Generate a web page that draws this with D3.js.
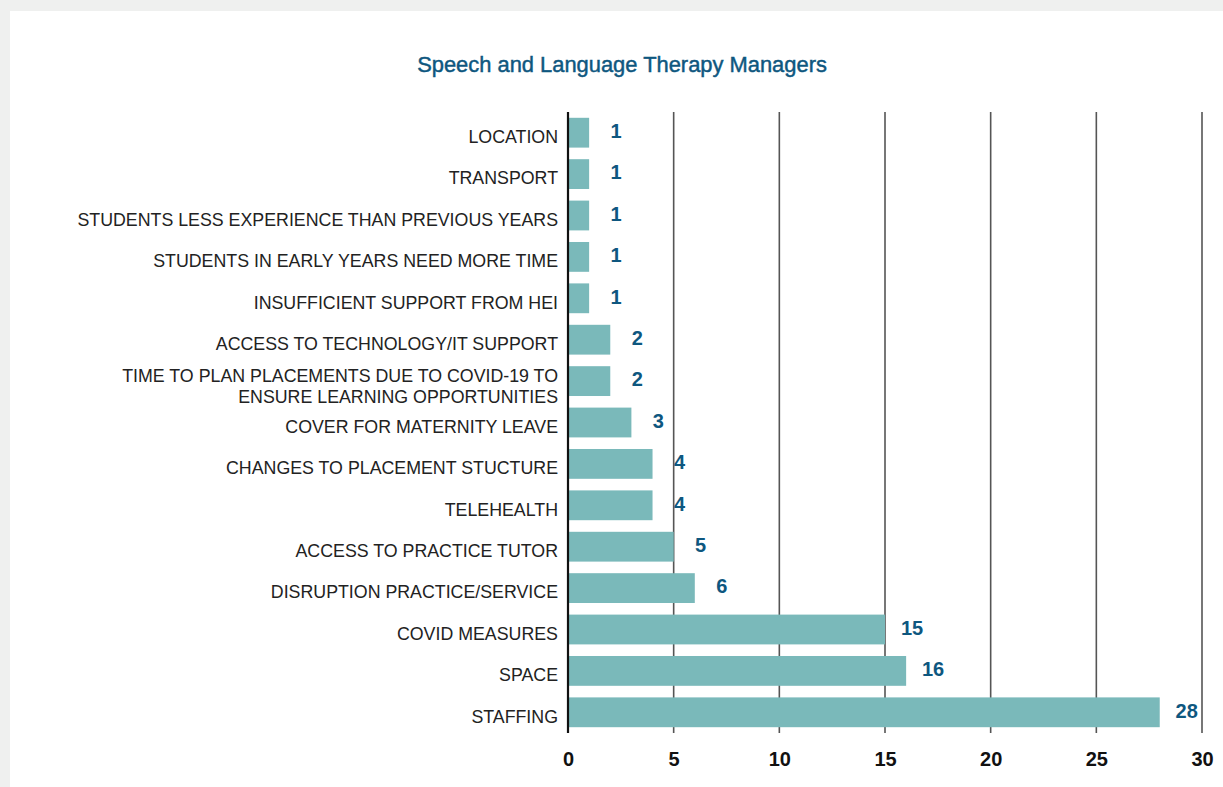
<!DOCTYPE html>
<html>
<head>
<meta charset="utf-8">
<script src="https://cdn.jsdelivr.net/npm/d3@7"></script>
<style>
  html, body { margin: 0; padding: 0; background: #eff0ef; }
  #chart { position: absolute; left: 10px; top: 11px; width: 1213px; height: 776px; background: #fff; }
  svg { display: block; font-family: "Liberation Sans", Arial, sans-serif; }
</style>
</head>
<body>
<div id="chart"></div>
<script>
const categories = [
  "LOCATION",
  "TRANSPORT",
  "STUDENTS LESS EXPERIENCE THAN PREVIOUS YEARS",
  "STUDENTS IN EARLY YEARS NEED MORE TIME",
  "INSUFFICIENT SUPPORT FROM HEI",
  "ACCESS TO TECHNOLOGY/IT SUPPORT",
  "TIME TO PLAN PLACEMENTS DUE TO COVID-19 TO|ENSURE LEARNING OPPORTUNITIES",
  "COVER FOR MATERNITY LEAVE",
  "CHANGES TO PLACEMENT STUCTURE",
  "TELEHEALTH",
  "ACCESS TO PRACTICE TUTOR",
  "DISRUPTION PRACTICE/SERVICE",
  "COVID MEASURES",
  "SPACE",
  "STAFFING"
];
const values = [1, 1, 1, 1, 1, 2, 2, 3, 4, 4, 5, 6, 15, 16, 28];
const xTicks = [0, 5, 10, 15, 20, 25, 30];

const width = 1213, height = 776;
const margin = {top: 101, right: 21, bottom: 54, left: 558};

const svg = d3.select("#chart").append("svg")
  .attr("width", width)
  .attr("height", height);

// title, sized to span the same width as in the original
const title = svg.append("text")
  .attr("x", 612)
  .attr("y", 61)
  .attr("text-anchor", "middle")
  .attr("fill", "#0e577f")
  .attr("stroke", "#0e577f")
  .attr("stroke-width", 0.45)
  .style("font-size", "20px")
  .text("Speech and Language Therapy Managers");
const tLen = title.node().getComputedTextLength();
title.style("font-size", (20 * 410 / tLen).toFixed(2) + "px");

const x = d3.scaleLinear().domain([0, 30]).range([margin.left, width - margin.right]);
const y = d3.scaleBand()
  .domain(categories)
  .range([margin.top, height - margin.bottom])
  .paddingInner(0.28)
  .paddingOuter(0.14);

// vertical grid lines
svg.append("g")
  .selectAll("line")
  .data(xTicks.filter(d => d > 0))
  .join("line")
  .attr("x1", d => x(d)).attr("x2", d => x(d))
  .attr("y1", margin.top).attr("y2", height - margin.bottom)
  .attr("stroke", "#555")
  .attr("stroke-width", 1.6);

// bars
svg.append("g")
  .selectAll("rect")
  .data(values)
  .join("rect")
  .attr("x", x(0))
  .attr("y", (d, i) => y(categories[i]))
  .attr("width", d => x(d) - x(0))
  .attr("height", y.bandwidth())
  .attr("fill", "#7ab9ba");

// zero axis
svg.append("line")
  .attr("x1", x(0)).attr("x2", x(0))
  .attr("y1", margin.top).attr("y2", height - margin.bottom)
  .attr("stroke", "#111")
  .attr("stroke-width", 2.2);

// value labels, centred a fixed gap past the bar end
svg.append("g")
  .selectAll("text")
  .data(values)
  .join("text")
  .attr("x", d => x(d) + 27)
  .attr("y", (d, i) => y(categories[i]) + y.bandwidth() / 2)
  .attr("dy", "0.26em")
  .attr("text-anchor", "middle")
  .attr("fill", "#0e577f")
  .style("font-size", "20px")
  .style("font-weight", "bold")
  .text(d => d);

// category labels
const labels = svg.append("g")
  .selectAll("text")
  .data(categories)
  .join("text")
  .attr("x", margin.left - 10)
  .attr("y", d => y(d) + y.bandwidth() / 2)
  .attr("text-anchor", "end")
  .attr("fill", "#222")
  .style("font-size", "17.8px");

labels.each(function(d) {
  const lines = d.split("|");
  const t = d3.select(this);
  const first = lines.length === 1 ? 0.58 : 0.03;
  lines.forEach((l, i) => {
    t.append("tspan")
      .attr("x", margin.left - 10)
      .attr("dy", i === 0 ? first + "em" : "1.2em")
      .text(l);
  });
});

// x axis tick labels
const xAxis = d3.axisBottom(x).tickValues(xTicks).tickSize(0).tickPadding(19);
svg.append("g")
  .attr("transform", `translate(0,${height - margin.bottom})`)
  .call(xAxis)
  .call(g => g.select(".domain").remove())
  .call(g => g.selectAll("text")
    .attr("fill", "#111")
    .style("font-size", "20px")
    .style("font-weight", "bold")
    .style("font-family", "'Liberation Sans', Arial, sans-serif"));
</script>
</body>
</html>
